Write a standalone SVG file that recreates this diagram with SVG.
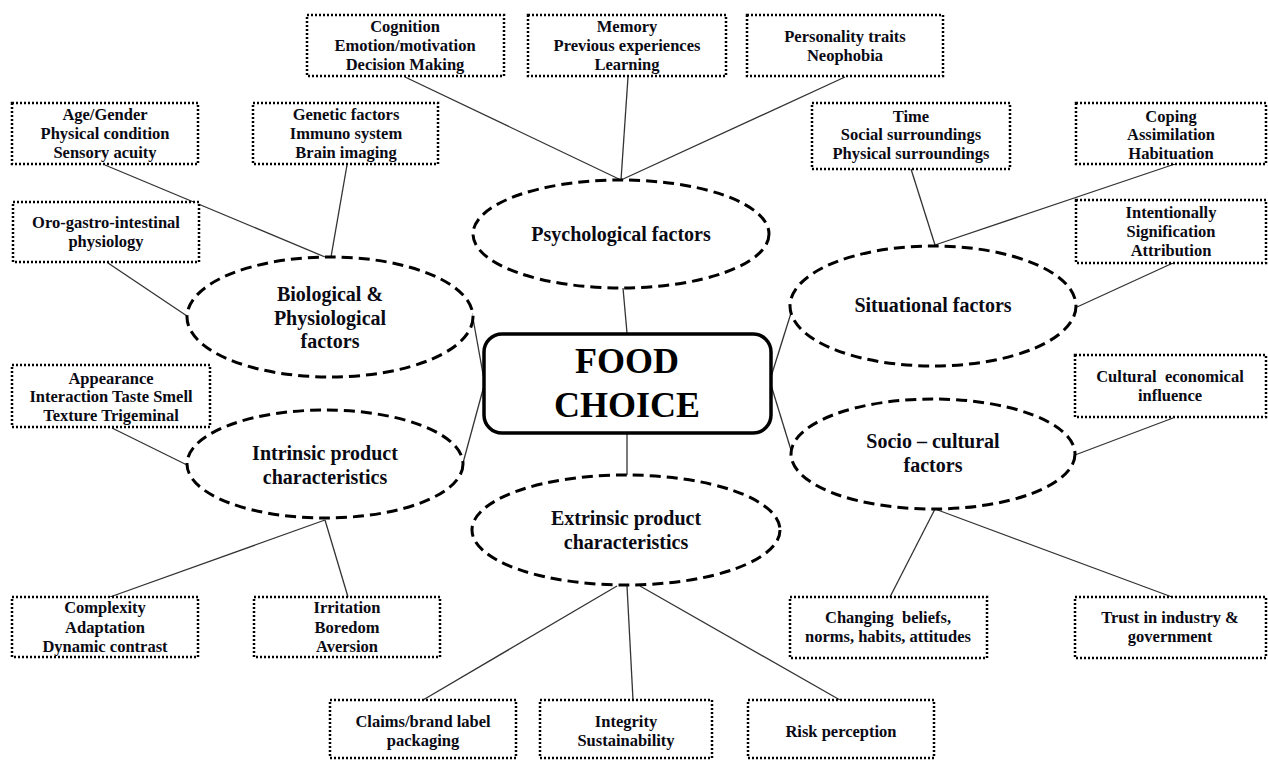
<svg xmlns="http://www.w3.org/2000/svg" width="1268" height="760" viewBox="0 0 1268 760">
<style>
.box{fill:#fff;stroke:#000;stroke-width:2.5;stroke-dasharray:2 2}
.ell{fill:#fff;stroke:#000;stroke-width:3;stroke-dasharray:11 6}
.t{font-family:"Liberation Serif","Times New Roman",serif;font-weight:bold;font-size:16.5px;fill:#0a0a14;text-anchor:middle;white-space:pre}
.e{font-family:"Liberation Serif","Times New Roman",serif;font-weight:bold;font-size:20px;fill:#0a0a14;text-anchor:middle}
.c{font-family:"Liberation Serif","Times New Roman",serif;font-weight:bold;font-size:36px;fill:#000;text-anchor:middle}
.ln{stroke:#333;stroke-width:1.3;fill:none}
</style>
<rect width="1268" height="760" fill="#fff"/>
<g id="connectors">
<line class="ln" x1="405" y1="77" x2="621" y2="180"/>
<line class="ln" x1="628" y1="77" x2="621" y2="180"/>
<line class="ln" x1="845" y1="77" x2="621" y2="180"/>
<line class="ln" x1="105" y1="165" x2="325" y2="257"/>
<line class="ln" x1="347" y1="165" x2="331" y2="257"/>
<line class="ln" x1="108" y1="263" x2="187" y2="316"/>
<line class="ln" x1="112" y1="428" x2="187" y2="465"/>
<line class="ln" x1="472" y1="313" x2="485" y2="385"/>
<line class="ln" x1="463" y1="463" x2="485" y2="382"/>
<line class="ln" x1="623" y1="288" x2="627" y2="333"/>
<line class="ln" x1="627" y1="433" x2="627" y2="475"/>
<line class="ln" x1="770" y1="380" x2="791" y2="313"/>
<line class="ln" x1="771" y1="385" x2="791" y2="450"/>
<line class="ln" x1="911" y1="169" x2="935" y2="245"/>
<line class="ln" x1="1175" y1="164" x2="935" y2="245"/>
<line class="ln" x1="1173" y1="263" x2="1077" y2="307"/>
<line class="ln" x1="1173" y1="418" x2="1075" y2="455"/>
<line class="ln" x1="935" y1="509" x2="890" y2="597"/>
<line class="ln" x1="935" y1="509" x2="1172" y2="597"/>
<line class="ln" x1="325" y1="520" x2="110" y2="597"/>
<line class="ln" x1="325" y1="520" x2="348" y2="597"/>
<line class="ln" x1="617" y1="586" x2="423" y2="700"/>
<line class="ln" x1="627" y1="586" x2="633" y2="700"/>
<line class="ln" x1="640" y1="586" x2="840" y2="700"/>
</g>
<g id="food-choice">
<rect x="484" y="334" width="287" height="99" rx="18" fill="#fff" stroke="#000" stroke-width="3.5"/>
<text class="c" x="627" y="373">FOOD</text>
<text class="c" x="627" y="417">CHOICE</text>
</g>
<g id="psychological">
<ellipse class="ell" cx="621" cy="234" rx="148" ry="54"/>
<text class="e" x="621" y="241">Psychological factors</text>
</g>
<g id="biological">
<ellipse class="ell" cx="330" cy="317" rx="143" ry="60"/>
<text class="e" x="330" y="301">Biological &amp;</text>
<text class="e" x="330" y="325">Physiological</text>
<text class="e" x="330" y="348">factors</text>
</g>
<g id="intrinsic">
<ellipse class="ell" cx="325" cy="464" rx="138" ry="54"/>
<text class="e" x="325" y="460">Intrinsic product</text>
<text class="e" x="325" y="484">characteristics</text>
</g>
<g id="situational">
<ellipse class="ell" cx="933" cy="306" rx="143" ry="60"/>
<text class="e" x="933" y="312">Situational factors</text>
</g>
<g id="socio">
<ellipse class="ell" cx="933" cy="454" rx="142" ry="55"/>
<text class="e" x="933" y="448">Socio – cultural</text>
<text class="e" x="933" y="472">factors</text>
</g>
<g id="extrinsic">
<ellipse class="ell" cx="626" cy="530" rx="154" ry="55"/>
<text class="e" x="626" y="525">Extrinsic product</text>
<text class="e" x="626" y="549">characteristics</text>
</g>
<g id="box-cognition">
<rect class="box" x="307" y="15" width="197" height="61"/>
<text class="t" x="405" y="32">Cognition</text>
<text class="t" x="405" y="51">Emotion/motivation</text>
<text class="t" x="405" y="70">Decision Making</text>
</g>
<g id="box-memory">
<rect class="box" x="528" y="15" width="198" height="61"/>
<text class="t" x="627" y="32">Memory</text>
<text class="t" x="627" y="51">Previous experiences</text>
<text class="t" x="627" y="70">Learning</text>
</g>
<g id="box-personality">
<rect class="box" x="747" y="15" width="196" height="61"/>
<text class="t" x="845" y="42">Personality traits</text>
<text class="t" x="845" y="61">Neophobia</text>
</g>
<g id="box-age">
<rect class="box" x="12" y="103" width="186" height="61"/>
<text class="t" x="105" y="120">Age/Gender</text>
<text class="t" x="105" y="139">Physical condition</text>
<text class="t" x="105" y="158">Sensory acuity</text>
</g>
<g id="box-genetic">
<rect class="box" x="253" y="103" width="185" height="61"/>
<text class="t" x="346" y="120">Genetic factors</text>
<text class="t" x="346" y="139">Immuno system</text>
<text class="t" x="346" y="158">Brain imaging</text>
</g>
<g id="box-oro">
<rect class="box" x="13" y="202" width="186" height="60"/>
<text class="t" x="106" y="228">Oro-gastro-intestinal</text>
<text class="t" x="106" y="247">physiology</text>
</g>
<g id="box-appearance">
<rect class="box" x="12" y="365" width="198" height="62"/>
<text class="t" x="111" y="384">Appearance</text>
<text class="t" x="111" y="402">Interaction Taste Smell</text>
<text class="t" x="111" y="421">Texture Trigeminal</text>
</g>
<g id="box-time">
<rect class="box" x="812" y="103" width="198" height="66"/>
<text class="t" x="911" y="122">Time</text>
<text class="t" x="911" y="140">Social surroundings</text>
<text class="t" x="911" y="159">Physical surroundings</text>
</g>
<g id="box-coping">
<rect class="box" x="1076" y="103" width="190" height="61"/>
<text class="t" x="1171" y="122">Coping</text>
<text class="t" x="1171" y="140">Assimilation</text>
<text class="t" x="1171" y="159">Habituation</text>
</g>
<g id="box-intentionally">
<rect class="box" x="1076" y="200" width="190" height="63"/>
<text class="t" x="1171" y="218">Intentionally</text>
<text class="t" x="1171" y="237">Signification</text>
<text class="t" x="1171" y="256">Attribution</text>
</g>
<g id="box-cultural">
<rect class="box" x="1075" y="355" width="191" height="62"/>
<text class="t" x="1170" y="382" xml:space="preserve">Cultural  economical</text>
<text class="t" x="1170" y="401">influence</text>
</g>
<g id="box-changing">
<rect class="box" x="790" y="597" width="197" height="61"/>
<text class="t" x="888" y="623" xml:space="preserve">Changing  beliefs,</text>
<text class="t" x="888" y="642">norms, habits, attitudes</text>
</g>
<g id="box-trust">
<rect class="box" x="1075" y="597" width="191" height="61"/>
<text class="t" x="1170" y="623">Trust in industry &amp;</text>
<text class="t" x="1170" y="642">government</text>
</g>
<g id="box-complexity">
<rect class="box" x="12" y="597" width="186" height="60"/>
<text class="t" x="105" y="613">Complexity</text>
<text class="t" x="105" y="633">Adaptation</text>
<text class="t" x="105" y="652">Dynamic contrast</text>
</g>
<g id="box-irritation">
<rect class="box" x="254" y="597" width="186" height="60"/>
<text class="t" x="347" y="613">Irritation</text>
<text class="t" x="347" y="633">Boredom</text>
<text class="t" x="347" y="652">Aversion</text>
</g>
<g id="box-claims">
<rect class="box" x="330" y="700" width="186" height="58"/>
<text class="t" x="423" y="727">Claims/brand label</text>
<text class="t" x="423" y="746">packaging</text>
</g>
<g id="box-integrity">
<rect class="box" x="540" y="700" width="172" height="58"/>
<text class="t" x="626" y="727">Integrity</text>
<text class="t" x="626" y="746">Sustainability</text>
</g>
<g id="box-risk">
<rect class="box" x="748" y="700" width="186" height="58"/>
<text class="t" x="841" y="737">Risk perception</text>
</g>
</svg>
